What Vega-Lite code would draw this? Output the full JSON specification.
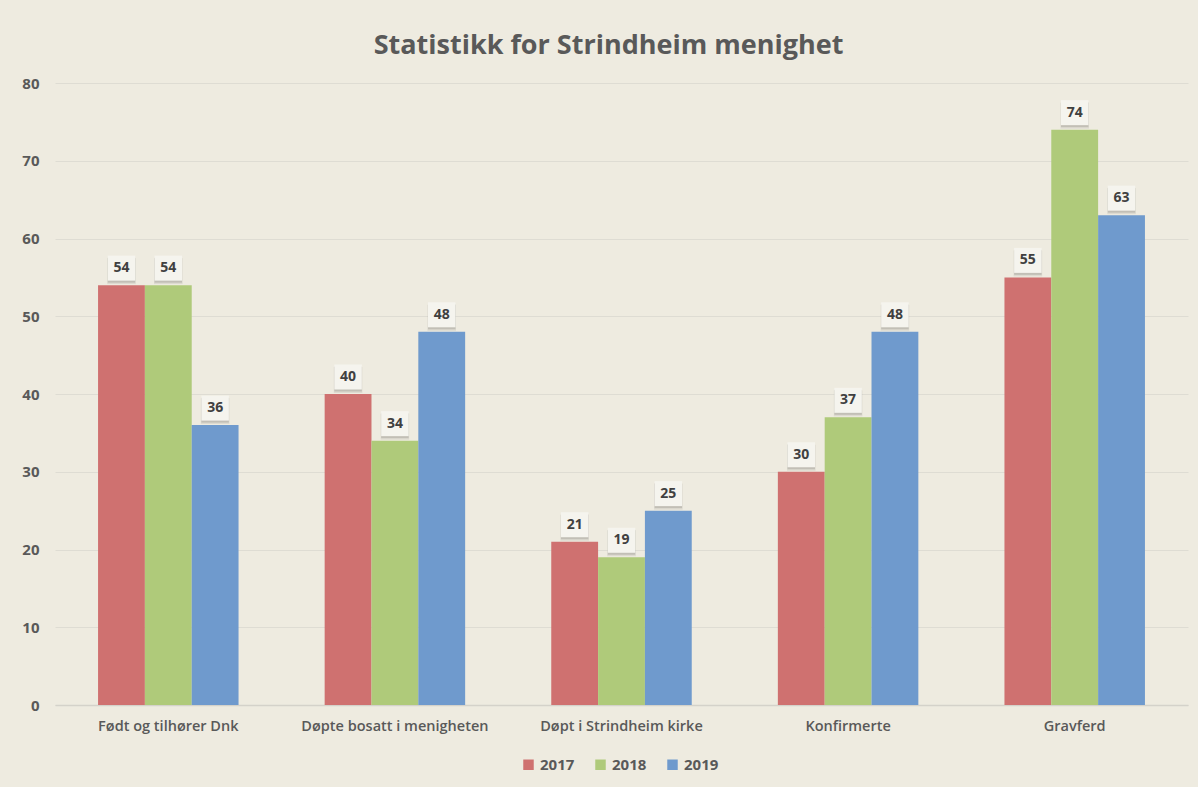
{
  "$schema": "https://vega.github.io/schema/vega-lite/v6.json",
  "width": 1133,
  "height": 622,
  "autosize": {"type": "none"},
  "padding": {"left": 55, "top": 83, "right": 10, "bottom": 82},
  "background": "#EEEBE0",
  "title": {
    "text": "Statistikk for Strindheim menighet",
    "font": "Open Sans",
    "fontSize": 27,
    "fontWeight": "bold",
    "color": "#595959",
    "anchor": "middle",
    "dx": -13,
    "offset": 16
  },
  "data": {
    "values": [
      {"kategori": "Født og tilhører Dnk", "år": "2017", "antall": 54},
      {"kategori": "Født og tilhører Dnk", "år": "2018", "antall": 54},
      {"kategori": "Født og tilhører Dnk", "år": "2019", "antall": 36},
      {"kategori": "Døpte bosatt i menigheten", "år": "2017", "antall": 40},
      {"kategori": "Døpte bosatt i menigheten", "år": "2018", "antall": 34},
      {"kategori": "Døpte bosatt i menigheten", "år": "2019", "antall": 48},
      {"kategori": "Døpt i Strindheim kirke", "år": "2017", "antall": 21},
      {"kategori": "Døpt i Strindheim kirke", "år": "2018", "antall": 19},
      {"kategori": "Døpt i Strindheim kirke", "år": "2019", "antall": 25},
      {"kategori": "Konfirmerte", "år": "2017", "antall": 30},
      {"kategori": "Konfirmerte", "år": "2018", "antall": 37},
      {"kategori": "Konfirmerte", "år": "2019", "antall": 48},
      {"kategori": "Gravferd", "år": "2017", "antall": 55},
      {"kategori": "Gravferd", "år": "2018", "antall": 74},
      {"kategori": "Gravferd", "år": "2019", "antall": 63}
    ]
  },
  "encoding": {
    "x": {
      "field": "kategori",
      "type": "nominal",
      "sort": ["Født og tilhører Dnk", "Døpte bosatt i menigheten", "Døpt i Strindheim kirke", "Konfirmerte", "Gravferd"],
      "scale": {"paddingInner": 0.38, "paddingOuter": 0.19},
      "axis": {
        "title": null,
        "labelAngle": 0,
        "labelFont": "Open Sans",
        "labelFontSize": 14.5,
        "labelFontWeight": 600,
        "labelColor": "#595959",
        "labelPadding": 14,
        "labelLimit": 400,
        "ticks": false,
        "domain": true,
        "domainColor": "#D4D2CA",
        "domainWidth": 1.5
      }
    },
    "xOffset": {"field": "år", "type": "nominal", "scale": {"paddingInner": 0, "paddingOuter": 0}},
    "y": {
      "field": "antall",
      "type": "quantitative",
      "scale": {"domain": [0, 80]},
      "axis": {
        "title": null,
        "values": [0, 10, 20, 30, 40, 50, 60, 70, 80],
        "labelFont": "Open Sans",
        "labelFontSize": 15,
        "labelFontWeight": "bold",
        "labelColor": "#595959",
        "labelPadding": 16,
        "ticks": false,
        "domain": false,
        "grid": true,
        "gridColor": "#DEDCD3",
        "gridWidth": 1
      }
    }
  },
  "layer": [
    {
      "mark": {"type": "bar"},
      "encoding": {
        "color": {
          "field": "år",
          "type": "nominal",
          "scale": {"domain": ["2017", "2018", "2019"], "range": ["#CF7170", "#AFCA7A", "#6F9ACD"]},
          "legend": {
            "title": null,
            "orient": "none",
            "legendX": 466,
            "legendY": 674,
            "direction": "horizontal",
            "symbolType": "square",
            "symbolSize": 110,
            "symbolStrokeWidth": 0,
            "labelFont": "Open Sans",
            "labelFontSize": 15,
            "labelFontWeight": "bold",
            "labelColor": "#595959",
            "columnPadding": 18
          }
        }
      }
    },
    {
      "mark": {"type": "point", "shape": "M-1.1,-1H1.1V1H-1.1Z", "size": 676, "filled": true, "color": "#000000", "opacity": 0.07, "yOffset": -14, "xOffset": 4}
    },
    {
      "mark": {"type": "point", "shape": "M-1.1,-1H1.1V1H-1.1Z", "size": 625, "filled": true, "color": "#000000", "opacity": 0.12, "yOffset": -15, "xOffset": 2.5}
    },
    {
      "mark": {"type": "point", "shape": "M-1.1,-1H1.1V1H-1.1Z", "size": 625, "filled": true, "color": "#F5F4EE", "opacity": 1, "yOffset": -17}
    },
    {
      "mark": {"type": "text", "baseline": "middle", "align": "center", "yOffset": -17, "font": "Open Sans", "fontSize": 14, "fontWeight": "bold", "color": "#404040"},
      "encoding": {"text": {"field": "antall", "type": "quantitative"}}
    }
  ],
  "config": {
    "view": {"stroke": null}
  }
}
